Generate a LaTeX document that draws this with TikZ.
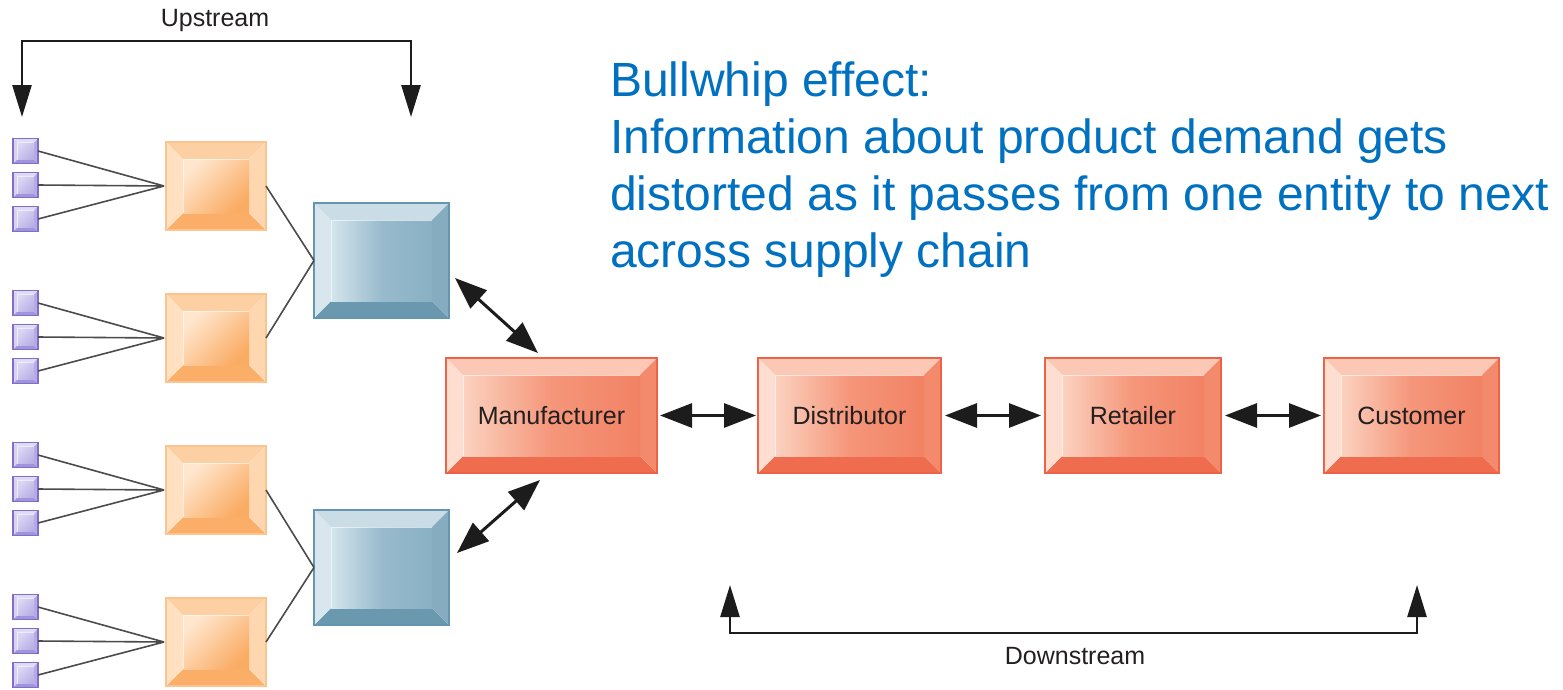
\documentclass[tikz,border=0pt]{standalone}
\usepackage{fontspec}
\setmainfont{Liberation Sans}
\usetikzlibrary{arrows.meta,calc}
% red boxes
\definecolor{redBd}{RGB}{240,98,72}
\definecolor{redT}{RGB}{250,200,180}
\definecolor{redL}{RGB}{253,222,208}
\definecolor{redB}{RGB}{239,108,78}
\definecolor{redR}{RGB}{243,138,108}
\definecolor{redFL}{RGB}{251,210,192}
\definecolor{redFM}{RGB}{245,150,122}
\definecolor{redFR}{RGB}{242,130,100}
% orange boxes
\definecolor{orBd}{RGB}{251,196,142}
\definecolor{orT}{RGB}{253,208,163}
\definecolor{orL}{RGB}{255,224,192}
\definecolor{orB}{RGB}{250,174,104}
\definecolor{orR}{RGB}{254,214,175}
\definecolor{orFL}{RGB}{255,230,206}
\definecolor{orFR}{RGB}{250,172,100}
% blue boxes
\definecolor{blBd}{RGB}{100,150,175}
\definecolor{blT}{RGB}{202,221,230}
\definecolor{blL}{RGB}{216,231,238}
\definecolor{blB}{RGB}{106,152,174}
\definecolor{blR}{RGB}{134,172,192}
\definecolor{blFL}{RGB}{212,229,237}
\definecolor{blFM}{RGB}{152,187,204}
\definecolor{blFR}{RGB}{138,176,196}
% purple squares
\definecolor{puBd}{RGB}{130,110,200}
\definecolor{puT}{RGB}{225,220,246}
\definecolor{puL}{RGB}{215,210,242}
\definecolor{puB}{RGB}{160,148,220}
\definecolor{puR}{RGB}{180,170,228}
\definecolor{puFL}{RGB}{218,214,244}
\definecolor{puFR}{RGB}{186,178,230}
% others
\definecolor{txt}{RGB}{35,31,32}
\definecolor{arr}{RGB}{28,28,28}
\definecolor{conn}{RGB}{75,75,75}
\definecolor{note}{RGB}{0,112,192}

\tikzset{
  redface/.style={left color=redFL, right color=redFR, middle color=redFM},
  orface/.style={top color=orFL, bottom color=orFR, shading angle=45},
  blface/.style={left color=blFL, right color=blFR, middle color=blFM},
  puface/.style={top color=puFL, bottom color=puFR, shading angle=45},
  boxbase/.style={inner sep=0pt, outer sep=0pt, text=txt, font=\fontsize{25}{30}\selectfont},
  redbox/.style={boxbase, draw=redBd, line width=1.5pt},
  orbox/.style={boxbase, draw=orBd, line width=1.5pt},
  blbox/.style={boxbase, draw=blBd, line width=1.5pt},
  pubox/.style={boxbase, draw=puBd, line width=1.5pt},
  feeder/.style={draw=conn, line width=1.6pt},
  twoway/.style={draw=arr, line width=3pt, {Triangle[length=32pt,width=24pt]}-{Triangle[length=32pt,width=24pt]}},
  bracket/.style={draw=arr, line width=2.6pt, {Triangle[length=32pt,width=19pt]}-{Triangle[length=32pt,width=19pt]}},
  lbl/.style={text=txt, font=\fontsize{25}{30}\selectfont, inner sep=0pt},
}

% #1 name, #2 x1, #3 y1, #4 x2, #5 y2, #6 bevel, #7 colour prefix, #8 text
\newcommand\bevbox[8]{%
  \fill[#7T] ({#2},{#3}) -- ({#4},{#3}) -- ({(#4)-(#6)},{(#3)+(#6)}) -- ({(#2)+(#6)},{(#3)+(#6)}) -- cycle;
  \fill[#7B] ({#2},{#5}) -- ({#4},{#5}) -- ({(#4)-(#6)},{(#5)-(#6)}) -- ({(#2)+(#6)},{(#5)-(#6)}) -- cycle;
  \fill[#7L] ({#2},{#3}) -- ({#2},{#5}) -- ({(#2)+(#6)},{(#5)-(#6)}) -- ({(#2)+(#6)},{(#3)+(#6)}) -- cycle;
  \fill[#7R] ({#4},{#3}) -- ({#4},{#5}) -- ({(#4)-(#6)},{(#5)-(#6)}) -- ({(#4)-(#6)},{(#3)+(#6)}) -- cycle;
  \shade[#7face] ({(#2)+(#6)},{(#3)+(#6)}) rectangle ({(#4)-(#6)},{(#5)-(#6)});
  \draw[white, opacity=0.6, line width=1pt] ({(#2)+(#6)},{(#5)-(#6)}) -- ({(#2)+(#6)},{(#3)+(#6)}) -- ({(#4)-(#6)},{(#3)+(#6)});
  \node[#7box, minimum width={((#4)-(#2))*1pt}, minimum height={((#5)-(#3))*1pt}] (#1) at ({((#2)+(#4))/2},{((#3)+(#5))/2}) {#8};
}

\begin{document}
\begin{tikzpicture}[x=1pt,y=-1pt]
\useasboundingbox (0,0) rectangle (1563,689);

% supplier groups: small squares and orange boxes
\foreach \g/\cy in {1/186,2/338,3/490,4/642}{
  \bevbox{o\g}{166}{\cy-44}{266}{\cy+44}{17}{or}{}
  \foreach \i/\dy in {1/-35,2/-1,3/33}{
    \bevbox{s\g\i}{13}{\cy+\dy-12.5}{38}{\cy+\dy+12.5}{4}{pu}{}
    \draw[feeder] (s\g\i.east) -- ([xshift=-2pt]o\g.west);
  }
}

% blue boxes
\bevbox{b1}{314}{203}{449}{318}{17}{bl}{}
\bevbox{b2}{314}{510}{449}{625}{17}{bl}{}
\draw[feeder] (o1.east) -- (b1.west);
\draw[feeder] (o2.east) -- (b1.west);
\draw[feeder] (o3.east) -- (b2.west);
\draw[feeder] (o4.east) -- (b2.west);

% main chain
\bevbox{man}{446}{358}{657}{473}{17}{red}{Manufacturer}
\bevbox{dis}{758}{358}{941}{473}{17}{red}{Distributor}
\bevbox{ret}{1045}{358}{1221}{473}{17}{red}{Retailer}
\bevbox{cus}{1324}{358}{1499}{473}{17}{red}{Customer}

\draw[twoway] ([shift={(6pt,-17.5pt)}]b1.east) -- ([shift={(-13.5pt,5pt)}]man.north);
\draw[twoway] ([shift={(8pt,14.5pt)}]b2.east) -- ([shift={(-11.5pt,-7pt)}]man.south);
\draw[twoway, shorten <=3pt, shorten >=2pt] (man.east) -- (dis.west);
\draw[twoway, shorten <=4pt, shorten >=4pt] (dis.east) -- (ret.west);
\draw[twoway, shorten <=4pt, shorten >=3pt] (ret.east) -- (cus.west);

% upstream / downstream brackets
\coordinate (uL) at (22,117);
\coordinate (uR) at (411,117);
\draw[bracket] (uL) -- (22,41) -- (411,41) -- (uR);
\node[lbl] (up) at (215,20) {Upstream};

\coordinate (dL) at (730,585);
\coordinate (dR) at (1417,585);
\draw[bracket] (dL) -- (730,633) -- (1417,633) -- (dR);
\node[lbl] (down) at (1075,656) {Downstream};

% bullwhip note (base anchor = baseline of last line)
\node[anchor=base west, inner sep=0pt, align=left, text=note,
      font=\fontsize{48}{56.7}\selectfont] (bw) at (610,267)
  {Bullwhip effect:\\Information about product demand gets\\distorted as it passes from one entity to next\\across supply chain};
\end{tikzpicture}
\end{document}
